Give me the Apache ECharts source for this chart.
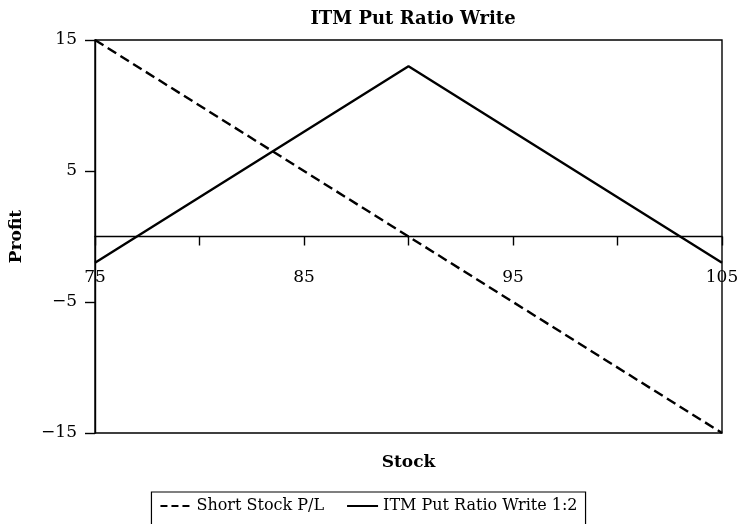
<!DOCTYPE html>
<html>
<head>
<meta charset="utf-8">
<script src="https://cdn.jsdelivr.net/npm/echarts@6/dist/echarts.min.js"></script>
<style>html,body{margin:0;padding:0;background:#fff}#c{width:737px;height:524px}</style>
</head>
<body>
<div id="c"></div>
<script>
var titleText = 'ITM Put Ratio Write';
var xName = 'Stock';
var yName = 'Profit';
var seriesNames = ['Short Stock P/L', 'ITM Put Ratio Write 1:2'];
var shortStockX = [75, 105];
var shortStockY = [15, -15];
var ratioWriteX = [75, 90, 105];
var ratioWriteY = [-2, 13, -2];
var xTickLabels = [75, 85, 95, 105];
var yTickLabels = [-15, -5, 5, 15];

var FONT = 'DejaVu Serif';
function pairs(xs, ys) { return xs.map(function (x, i) { return [x, ys[i]]; }); }

var gridTop = 40, gridBottom = 91, H = 524;
var yMin = -15, yMax = 15;
var plotH = H - gridTop - gridBottom;
var zeroOffset = -plotH * (0 - yMin) / (yMax - yMin);

var chart = echarts.init(document.getElementById('c'), null, {renderer: 'canvas'});
chart.setOption({
  animation: false,
  backgroundColor: '#fff',
  textStyle: {fontFamily: FONT, color: '#000'},
  title: {
    text: titleText, left: 408, textAlign: 'center', top: 5,
    textStyle: {fontFamily: FONT, fontWeight: 'bold', fontSize: 18, color: '#000'}
  },
  grid: {left: 95, right: 15, top: gridTop, bottom: gridBottom, outerBoundsMode: 'none', containLabel: false,
         show: true, borderColor: '#000', borderWidth: 1.4, backgroundColor: 'transparent'},
  legend: {
    top: 492, left: 'center',
    data: [
      {name: seriesNames[0], lineStyle: {type: [7, 4]}},
      {name: seriesNames[1]}
    ],
    itemWidth: 31, itemHeight: 10, itemGap: 22,
    borderColor: '#000', borderWidth: 1.2, padding: [6, 8, 14, 8],
    itemStyle: {opacity: 0},
    textStyle: {fontFamily: FONT, fontSize: 16, color: '#000'}
  },
  xAxis: {
    type: 'value', min: 75, max: 105, interval: 5,
    offset: zeroOffset,
    name: xName, nameLocation: 'middle', nameGap: 218,
    nameTextStyle: {fontFamily: FONT, fontWeight: 'bold', fontSize: 17, color: '#000'},
    axisLine: {onZero: false, lineStyle: {color: '#000', width: 1.4}},
    axisTick: {show: true, length: 9, inside: false, lineStyle: {color: '#000', width: 1.4}},
    axisLabel: {customValues: xTickLabels, margin: 33, fontFamily: FONT, fontSize: 17, color: '#000'},
    splitLine: {show: false}
  },
  yAxis: {
    type: 'value', min: yMin, max: yMax,
    name: yName, nameLocation: 'middle', nameGap: 70, nameRotate: 90,
    nameTextStyle: {fontFamily: FONT, fontWeight: 'bold', fontSize: 17, color: '#000'},
    axisLine: {show: true, lineStyle: {color: '#000', width: 1.4}},
    axisTick: {show: true, length: 10, customValues: yTickLabels, lineStyle: {color: '#000', width: 1.4}},
    axisLabel: {customValues: yTickLabels, margin: 18, fontFamily: FONT, fontSize: 17, color: '#000',
      formatter: function (v) { return v < 0 ? '\u2212' + Math.abs(v) : String(v); }},
    splitLine: {show: false}
  },
  series: [
    {name: seriesNames[0], type: 'line', data: pairs(shortStockX, shortStockY), symbol: 'none',
     lineStyle: {color: '#000', width: 2.4, type: [10, 5]}, itemStyle: {color: '#000'}},
    {name: seriesNames[1], type: 'line', data: pairs(ratioWriteX, ratioWriteY), symbol: 'none',
     lineStyle: {color: '#000', width: 2.4, type: 'solid'}, itemStyle: {color: '#000'}}
  ]
});
</script>
</body>
</html>
